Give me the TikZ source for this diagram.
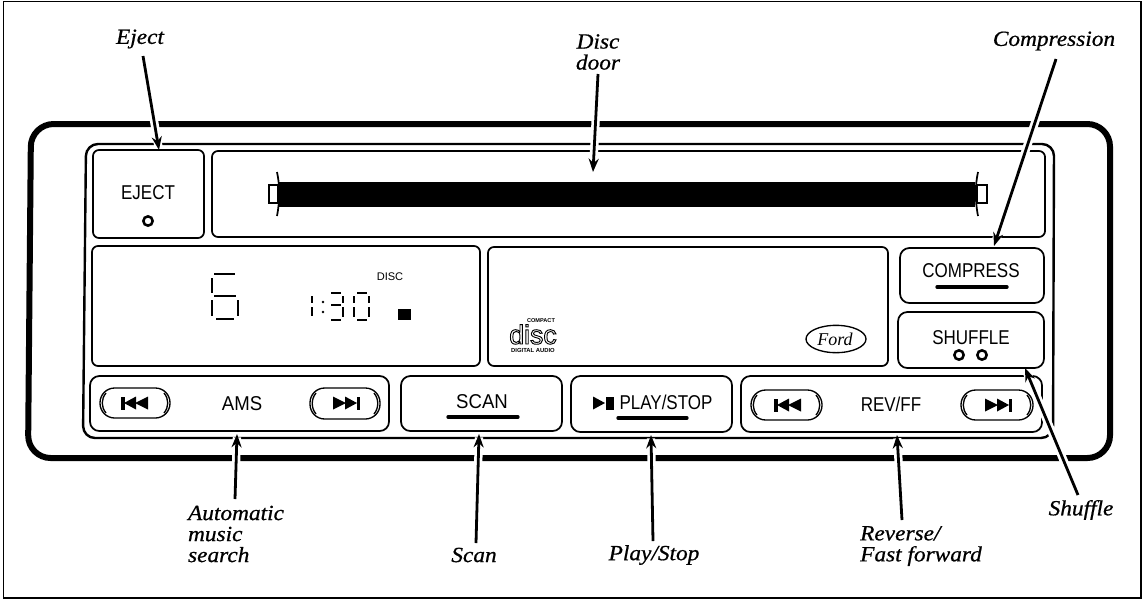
\documentclass[tikz,border=0pt]{standalone}
\usepackage{fontspec}
\usetikzlibrary{arrows.meta,fit,shapes.geometric}
\setmainfont{Liberation Serif}
\newfontfamily\callfont[ItalicFeatures={FakeBold=0.7,FakeStretch=1.08}]{Liberation Serif}
\newfontfamily\panelfont[FakeStretch=0.85]{Liberation Sans}
\newfontfamily\panelwide[FakeStretch=0.93]{Liberation Sans}
\newfontfamily\logofont{Liberation Sans}
\tikzset{
  x=0.75pt,y=-0.75pt,
  panelbox/.style={draw,line width=1.3pt,rounded corners=4.5pt,inner sep=0pt,outer sep=0pt},
  pill/.style={draw,line width=1pt,rounded corners=11pt,inner sep=0pt,outer sep=0pt},
  conn/.style={line width=2.1pt,-{Stealth[length=10pt,width=7.5pt]},preaction={draw=white,line width=6.2pt,arrows=-,shorten >=2.5pt}},
  callout/.style={font=\fontsize{16.2}{15.75}\selectfont\callfont\itshape,align=left,inner sep=0pt},
  paneltext/.style={font=\fontsize{15}{17}\selectfont\panelfont,inner sep=0pt},
  panelwidetext/.style={font=\fontsize{15}{17}\selectfont\panelwide,inner sep=0pt},
  uline/.style={line width=2.5pt,line cap=round},
  seg/.style={line width=1.2pt},
  led/.style={draw,line width=1.9pt,fill=white,circle,inner sep=0pt,minimum size=7pt},
}
\newcommand{\boxat}[6]{%
  \path (#3,#4) coordinate (#2a) (#5,#6) coordinate (#2b);
  \node[#1,fit=(#2a)(#2b)] (#2) {};}
\newcommand{\skipback}[2]{% left x, centre y
  \fill (#1,#2-6.5) rectangle (#1+3.5,#2+6.5);
  \fill (#1+3,#2) -- (#1+15,#2-6.5) -- (#1+15,#2+6.5) -- cycle;
  \fill (#1+14,#2) -- (#1+27,#2-6.5) -- (#1+27,#2+6.5) -- cycle;}
\newcommand{\skipfwd}[2]{%
  \fill (#1,#2-6.5) -- (#1+13,#2) -- (#1,#2+6.5) -- cycle;
  \fill (#1+12,#2-6.5) -- (#1+24,#2) -- (#1+12,#2+6.5) -- cycle;
  \fill (#1+23.5,#2-6.5) rectangle (#1+27,#2+6.5);}
\newcommand{\pillarcs}[4]{% x1 x2 y1 y2
  \draw[line width=1pt] (#1+6,#3+5) .. controls (#1+1,#3+11) and (#1+1,#4-11) .. (#1+6,#4-5);
  \draw[line width=1pt] (#2-6,#3+5) .. controls (#2-1,#3+11) and (#2-1,#4-11) .. (#2-6,#4-5);}
\begin{document}
\begin{tikzpicture}
\useasboundingbox (0,0) rectangle (1144,601);
\fill[white] (0,0) rectangle (1144,601);
\draw[line width=1.1pt] (3.5,1.5) rectangle (1141,598);
% housing
\draw[line width=4.5pt,rounded corners=17pt] (31,124) -- (1110,124) -- (1110,458) -- (28,458) -- cycle;
\draw[line width=1.8pt,rounded corners=9pt] (86,144) -- (1054,144) -- (1053,438) -- (83,438) -- cycle;
% boxes
\boxat{panelbox}{eject}{93}{150}{204}{238}
\boxat{panelbox}{door}{212}{151}{1045}{237}
\boxat{panelbox}{lcd}{92}{246}{480}{366}
\boxat{panelbox}{logos}{488}{247}{888}{366}
\boxat{panelbox,rounded corners=7pt}{compress}{900}{248}{1044}{303}
\boxat{panelbox,rounded corners=7pt}{shuffle}{898}{312}{1044}{368}
\boxat{panelbox,rounded corners=7pt}{ams}{90}{376}{389}{431}
\boxat{panelbox,rounded corners=7pt}{scan}{401}{376}{562}{431}
\boxat{panelbox,rounded corners=7pt}{play}{571}{376}{732}{432}
\boxat{panelbox,rounded corners=7pt}{revff}{741}{376}{1042}{432}
% eject
\node[paneltext] (ejecttext) at (148,193) {EJECT};
\node[led] (ejectled) at (148,221) {};
% door slot
\fill (278,182) rectangle (975,207);
\draw[line width=1.1pt] (269,185) rectangle (278,203);
\draw[line width=1.1pt] (977,185) rectangle (987,203);
\draw[line width=1.3pt] (277,172) .. controls (280,186) and (280,200) .. (277,216);
\draw[line width=1.3pt] (978,172) .. controls (975,186) and (975,200) .. (978,216);
% display digit 6
\foreach \a/\b/\c/\d in {214/273.5/235/273.5,212/278/212/293,214/296/236/296,212/300/212/316,238/300/238/316,216/319/234/319}
  \draw[seg,line width=1.5pt] (\a,\b) -- (\c,\d);
% 1:30
\foreach \a/\b/\c/\d in {312/296/312/303,312/307/312/316,
  331/293/341/293,343/296/343/303,331/305/341/305,343/307/343/317,331/320/341/320,
  357/293/367/293,354/296/354/303,369/296/369/303,354/307/354/317,369/307/369/317,357/320/367/320}
  \draw[seg,line width=1.1pt] (\a,\b) -- (\c,\d);
\fill (323,302) circle (1.4);
\fill (323,312) circle (1.4);
\fill (398,309) rectangle (411,320);
\node[font=\fontsize{8.3}{9}\selectfont\logofont,inner sep=0pt] (disclabel) at (390,277) {DISC};
% disc logo
\node[font=\fontsize{4.2}{4.2}\selectfont\logofont\bfseries,inner sep=0pt] (compacttext) at (541,321) {COMPACT};
\node[font=\fontsize{20}{20}\selectfont\logofont,inner sep=0pt,anchor=base] (disctext) at (533,344) {\special{pdf:code 1 Tr 0.7 w}disc\special{pdf:code 0 Tr}};
\node[font=\fontsize{4.4}{4.4}\selectfont\logofont\bfseries,inner sep=0pt] (audiotext) at (533,350) {DIGITAL AUDIO};
% Ford logo
\node[draw,ellipse,line width=1pt,minimum width=45pt,minimum height=20.5pt,inner sep=0pt] (fordoval) at (836,339) {};
\node[font=\fontsize{13.5}{14}\selectfont\itshape,inner sep=0pt] (fordtext) at (835,339) {Ford};
% compress, shuffle
\node[paneltext] (compresstext) at (971,271) {COMPRESS};
\draw[uline] (937,287) -- (1007,287);
\node[paneltext] (shuffletext) at (971,338) {SHUFFLE};
\node[led] (led1) at (959,355) {};
\node[led] (led2) at (982,355) {};
% AMS
\node[panelwidetext] (amstext) at (242,404) {AMS};
\boxat{pill}{amsl}{100}{388}{170}{418}
\boxat{pill}{amsr}{310}{388}{380}{419}
\pillarcs{100}{170}{388}{418}
\pillarcs{310}{380}{388}{419}
\skipback{121}{403}
\skipfwd{333}{403}
% scan
\node[panelwidetext] (scantext) at (482,402) {SCAN};
\draw[uline] (448,417) -- (518,417);
% play
\fill (593,396.5) -- (605,403) -- (593,409.5) -- cycle;
\fill (606,396.5) rectangle (614,409.5);
\node[paneltext] (playtext) at (666,402) {PLAY/STOP};
\draw[uline] (618,418) -- (687,418);
% rev
\node[paneltext] (revtext) at (891,404) {REV/FF};
\boxat{pill}{revl}{751}{390}{822}{420}
\boxat{pill}{revr}{961}{390}{1033}{420}
\pillarcs{751}{822}{390}{420}
\pillarcs{961}{1033}{390}{420}
\skipback{774}{405}
\skipfwd{985}{405}
% callouts
\node[callout] (lEject) at (140,39) {Eject};
\node[callout,align=center] (lDoor) at (598,52) {Disc\\door};
\node[callout] (lComp) at (1054,41) {Compression};
\node[callout] (lAuto) at (236,534) {Automatic\\music\\search};
\node[callout] (lScan) at (474,555) {Scan};
\node[callout] (lPlay) at (654,555) {Play/Stop};
\node[callout] (lRev) at (921,546) {Reverse/\\Fast forward};
\node[callout] (lShuf) at (1081,510) {Shuffle};
\coordinate (sEject) at (143,56);
\coordinate (sDoor) at (598,74);
\coordinate (sComp) at (1056,59);
\coordinate (sAuto) at (235,499);
\coordinate (sScan) at (476,543);
\coordinate (sPlay) at (653,541);
\coordinate (sRev) at (902,520);
\coordinate (sShuf) at (1078,495);
\coordinate (tEject) at (159,150);
\coordinate (tDoor) at (593,172);
\coordinate (tComp) at (994,246);
\coordinate (tAuto) at (237,434);
\coordinate (tScan) at (479,434);
\coordinate (tPlay) at (651,435);
\coordinate (tRev) at (897,435);
\coordinate (tShuf) at (1025,368);
\draw[conn] (sEject) -- (tEject);
\draw[conn] (sDoor) -- (tDoor);
\draw[conn] (sComp) -- (tComp);
\draw[conn] (sAuto) -- (tAuto);
\draw[conn] (sScan) -- (tScan);
\draw[conn] (sPlay) -- (tPlay);
\draw[conn] (sRev) -- (tRev);
\draw[conn] (sShuf) -- (tShuf);
\end{tikzpicture}
\end{document}
